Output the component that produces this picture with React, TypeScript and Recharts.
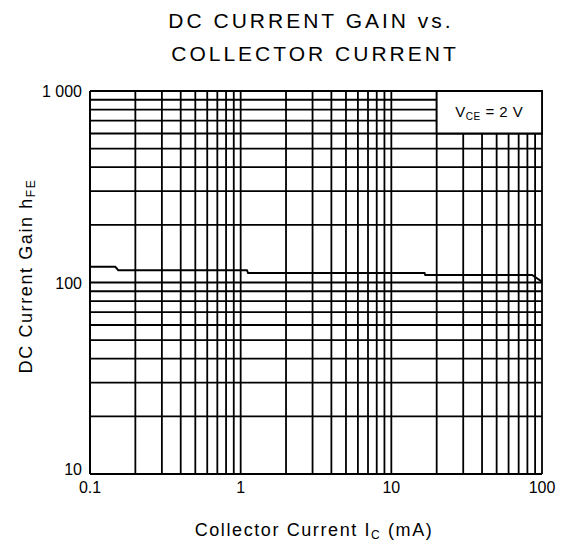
import React from 'react'
import { CartesianGrid, Line, LineChart, ReferenceArea, XAxis, YAxis } from 'recharts'

const currentMA = [0.1, 0.147, 0.154, 1.1, 1.12, 16.6, 16.8, 86, 100]
const gainHFE = [121, 121, 116, 116, 112, 112, 109.5, 109.5, 101]

const xGridTicks = [
  0.1, 0.2, 0.3, 0.4, 0.5, 0.6, 0.7, 0.8, 0.9,
  1, 2, 3, 4, 5, 6, 7, 8, 9,
  10, 20, 30, 40, 50, 60, 70, 80, 90, 100,
]
const yGridTicks = [
  10, 20, 30, 40, 50, 60, 70, 80, 90,
  100, 200, 300, 400, 500, 600, 700, 800, 900, 1000,
]
const xMajor = [0.1, 1, 10, 100]
const xMajorLabels = ['0.1', '1', '10', '100']
const yMajor = [10, 100, 1000]
const yMajorLabels = ['10', '100', '1 000']

const data = currentMA.map((ic, i) => ({ ic, hfe: gainHFE[i] }))

const FONT = '"Liberation Sans", Arial, sans-serif'

const XTick = ({ x, y, payload }: any) => {
  const i = xMajor.indexOf(payload.value)
  if (i < 0) return null
  return (
    <text x={x} y={y + 11} textAnchor="middle" fontSize={16} fontFamily={FONT} fill="#000">
      {xMajorLabels[i]}
    </text>
  )
}

const YTick = ({ x, y, payload }: any) => {
  const i = yMajor.indexOf(payload.value)
  if (i < 0) return null
  const dy = payload.value === 10 ? 1 : 6
  return (
    <text x={x} y={y + dy} textAnchor="end" fontSize={16} fontFamily={FONT} fill="#000">
      {yMajorLabels[i]}
    </text>
  )
}

const CondLabel = ({ viewBox }: any) => {
  const { x, y, width, height } = viewBox
  return (
    <text x={x + width / 2} y={y + height / 2 + 5} textAnchor="middle" fontSize={15} fontFamily={FONT} fill="#000" letterSpacing={0.5}>
      V<tspan fontSize={10} dy={3}>CE</tspan>
      <tspan dy={-3}> = 2 V</tspan>
    </text>
  )
}

export default function App() {
  return (
    <div style={{ position: 'relative', width: 568, height: 548, background: '#fff' }}>
      <style>{'body{margin:0}'}</style>
      <LineChart
        width={568}
        height={548}
        data={data}
        margin={{ top: 91, right: 26, left: 0, bottom: 44 }}
        style={{ position: 'absolute', left: 0, top: 0 }}
      >
        <CartesianGrid stroke="#000" strokeWidth={1.8} />
        <XAxis
          dataKey="ic"
          type="number"
          scale="log"
          domain={[0.1, 100]}
          ticks={xGridTicks}
          interval={0}
          tick={<XTick />}
          tickLine={false}
          axisLine={{ stroke: '#000', strokeWidth: 1.8 }}
          height={30}
          allowDataOverflow
        />
        <YAxis
          type="number"
          scale="log"
          domain={[10, 1000]}
          ticks={yGridTicks}
          interval={0}
          tick={<YTick />}
          tickLine={false}
          axisLine={{ stroke: '#000', strokeWidth: 1.8 }}
          width={90}
          allowDataOverflow
        />
        <ReferenceArea
          x1={20}
          x2={100}
          y1={600}
          y2={1000}
          fill="#fff"
          fillOpacity={1}
          stroke="#000"
          strokeWidth={1.8}
          label={<CondLabel />}
        />
        <Line
          dataKey="hfe"
          type="linear"
          stroke="#000"
          strokeWidth={2}
          dot={false}
          isAnimationActive={false}
        />
      </LineChart>
      <svg
        width={568}
        height={548}
        style={{ position: 'absolute', left: 0, top: 0, pointerEvents: 'none' }}
        fontFamily={FONT}
        fill="#000"
      >
        <text x={311} y={28} textAnchor="middle" fontSize={21} letterSpacing={3}>
          DC CURRENT GAIN vs.
        </text>
        <text x={315} y={61} textAnchor="middle" fontSize={21} letterSpacing={3}>
          COLLECTOR CURRENT
        </text>
        <text x={314} y={536} textAnchor="middle" fontSize={18} letterSpacing={1.6}>
          Collector Current I<tspan fontSize={12} dy={3}>C</tspan>
          <tspan dy={-3}> (mA)</tspan>
        </text>
        <text transform="translate(32 276) rotate(-90)" textAnchor="middle" fontSize={18} letterSpacing={1.6}>
          DC Current Gain h<tspan fontSize={12} dy={3}>FE</tspan>
        </text>
      </svg>
    </div>
  )
}
